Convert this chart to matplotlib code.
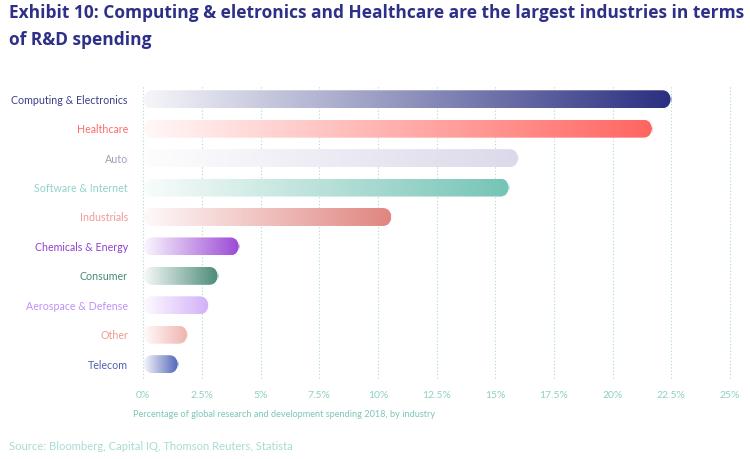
import numpy as np
import matplotlib
matplotlib.use('Agg')
import matplotlib.pyplot as plt
from matplotlib.colors import LinearSegmentedColormap, to_rgb
from matplotlib.patches import FancyBboxPatch

industries = ['Computing & Electronics', 'Healthcare', 'Auto', 'Software & Internet',
              'Industrials', 'Chemicals & Energy', 'Consumer', 'Aerospace & Defense',
              'Other', 'Telecom']
spending = [22.5, 21.7, 16.0, 15.6, 10.6, 4.1, 3.2, 2.8, 1.9, 1.5]
bar_colors = ['#2a2f80', '#ff6560', '#dcd9ea', '#75c4b5', '#e08580',
              '#9a48d6', '#4a8a78', '#d2b0f8', '#efb3ad', '#4f62b8']
label_colors = ['#3a3f8a', '#ff6b6b', '#a09fb8', '#8fd3c6', '#f09a95',
                '#9040d0', '#4a8a78', '#c190f5', '#f09a90', '#5060b0']
ticks = [0, 2.5, 5, 7.5, 10, 12.5, 15, 17.5, 20, 22.5, 25]
tick_labels = ['0%', '2.5%', '5%', '7.5%', '10%', '12.5%', '15%', '17.5%', '20%', '22.5%', '25%']

plt.rcParams['font.family'] = ['Lato', 'DejaVu Sans']

fig = plt.figure(figsize=(7.5, 4.59), dpi=100)
ax = fig.add_axes([143.2 / 750, 1 - 378 / 459, (730 - 143.2) / 750, (378 - 86) / 459])

grid_col = '#a8dcd3'
bar_h = 0.61
# keep the round caps circular on screen
px_x = (730 - 143.2) / 25
px_y = (378 - 86) / 9.92
r_x = (bar_h * px_y / 2) / px_x
aspect = px_x / px_y

for i, (v, c) in enumerate(zip(spending, bar_colors)):
    rgb = np.array(to_rgb(c))
    start = 0.96 * np.ones(3) + 0.04 * rgb
    cmap = LinearSegmentedColormap.from_list('g%d' % i, [start, rgb])
    grad = np.linspace(0, 1, 256).reshape(1, -1)
    im = ax.imshow(grad, cmap=cmap, aspect='auto', interpolation='bicubic',
                   extent=[0, v, i + bar_h / 2, i - bar_h / 2], zorder=2)
    patch = FancyBboxPatch((0, i - bar_h / 2), v, bar_h,
                           boxstyle='round,pad=0,rounding_size=%f' % r_x,
                           mutation_aspect=1 / aspect, fc='none', ec='none')
    ax.add_patch(patch)
    im.set_clip_path(patch)

for t in ticks:
    ax.axvline(t, color=grid_col, ls=(0, (1, 2)), lw=0.8, zorder=1, clip_on=False)

ax.set_xlim(0, 25)
ax.set_ylim(9.47, -0.45)
ax.set_xticks(ticks)
ax.set_xticklabels(tick_labels, color='#8fd0c4', fontsize=7.5)
ax.set_yticks(range(len(industries)))
ax.set_yticklabels(industries, fontsize=7.7)
for lbl, c in zip(ax.get_yticklabels(), label_colors):
    lbl.set_color(c)
ax.tick_params(length=0)
ax.tick_params(axis='y', pad=11)
ax.tick_params(axis='x', pad=9)
for s in ax.spines.values():
    s.set_visible(False)

ax.set_xlabel('Percentage of global research and development spending 2018, by industry',
              color='#7cc6b8', fontsize=6.6, loc='left')
ax.xaxis.set_label_coords(-10 / 586.8, -32 / 292, transform=ax.transAxes)

fig.text(9 / 750, 1 - 13 / 459, 'Exhibit 10: Computing & eletronics and Healthcare are the largest industries in terms',
         color='#2e3087', fontsize=12.5, fontweight='bold', va='center', family='Open Sans')
fig.text(9 / 750, 1 - 40 / 459, 'of R&D spending',
         color='#2e3087', fontsize=12.5, fontweight='bold', va='center', family='Open Sans')
fig.text(9 / 750, 1 - 447 / 459, 'Source: Bloomberg, Capital IQ, Thomson Reuters, Statista',
         color='#a8dcd3', fontsize=8.1, va='center')

fig.savefig('out.png', dpi=100)
